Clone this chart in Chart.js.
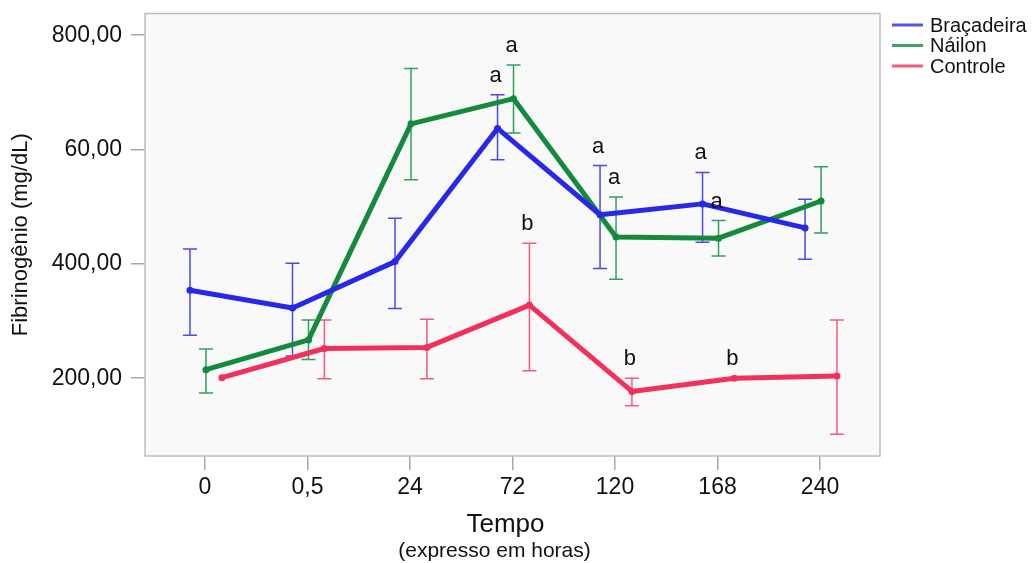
<!DOCTYPE html>
<html>
<head>
<meta charset="utf-8">
<script src="https://cdn.jsdelivr.net/npm/chart.js@4"></script>
<style>
  html, body { margin: 0; padding: 0; background: #fff; }
</style>
</head>
<body>
<canvas id="myChart" width="1035" height="563"></canvas>
<script>
// Time points (hours)
const categories = ['0', '0,5', '24', '72', '120', '168', '240'];

// Braçadeira
const bracadeira     = [354, 323, 404, 637, 486, 505, 463];
const bracadeiraLow  = [275, 239, 322, 582, 392, 438, 408];
const bracadeiraHigh = [426, 401, 480, 696, 572, 560, 513];
const bracadeiraSig  = ['', '', '', 'a', 'a', 'a', ''];

// Náilon
const nailon     = [215, 267, 645, 689, 447, 445, 510];
const nailonLow  = [174, 233, 547, 629, 373, 414, 454];
const nailonHigh = [251, 302, 742, 748, 517, 476, 570];
const nailonSig  = ['', '', '', 'a', 'a', 'a', ''];

// Controle
const controle     = [201, 252, 254, 328, 177, 200, 204];
const controleLow  = [null, 199, 199, 213, 152, null, 102];
const controleHigh = [null, 302, 303, 436, 200, null, 302];
const controleSig  = ['', '', '', 'b', 'b', 'b', ''];

// y axis ticks, labels as printed in the figure
const yTicks = [200, 400, 600, 800];
const yTickLabels = ['200,00', '400,00', '60,00', '800,00'];

const FONT = "'Liberation Sans', Arial, sans-serif";

function series(label, values, low, high, sig, color, barColor, shift) {
    return {
        label: label,
        data: values.map((v, i) => ({ x: i + shift, y: v })),
        low: low,
        high: high,
        sig: sig,
        barColor: barColor,
        borderColor: color,
        backgroundColor: color,
        borderWidth: 5,
        pointRadius: 3.5,
        pointBorderWidth: 0,
        borderJoinStyle: 'round',
        tension: 0
    };
}

// plot background + frame
const frame = {
    id: 'frame',
    beforeDraw(chart) {
        const { ctx, chartArea: a } = chart;
        ctx.save();
        ctx.fillStyle = '#f9f9f9';
        ctx.fillRect(a.left, a.top, a.right - a.left, a.bottom - a.top);
        ctx.restore();
    },
    afterDraw(chart) {
        const { ctx, chartArea: a } = chart;
        ctx.save();
        ctx.strokeStyle = '#bdbdbd';
        ctx.lineWidth = 1.5;
        ctx.strokeRect(a.left, a.top, a.right - a.left, a.bottom - a.top);
        ctx.restore();
    }
};

// error bars
const errorBars = {
    id: 'errorBars',
    beforeDatasetsDraw(chart) {
        const { ctx, scales: { x, y } } = chart;
        ctx.save();
        ctx.lineWidth = 1.5;
        chart.data.datasets.forEach((ds) => {
            ctx.strokeStyle = ds.barColor;
            ds.data.forEach((p, i) => {
                if (ds.low[i] == null) return;
                const px = x.getPixelForValue(p.x);
                const yt = y.getPixelForValue(ds.high[i]);
                const yb = y.getPixelForValue(ds.low[i]);
                ctx.beginPath();
                ctx.moveTo(px, yt); ctx.lineTo(px, yb);
                ctx.moveTo(px - 7, yt); ctx.lineTo(px + 7, yt);
                ctx.moveTo(px - 7, yb); ctx.lineTo(px + 7, yb);
                ctx.stroke();
            });
        });
        ctx.restore();
    }
};

// significance letters, legend and x subtitle
const extras = {
    id: 'extras',
    afterDraw(chart) {
        const { ctx, chartArea: a, scales: { x, y } } = chart;
        ctx.save();
        ctx.fillStyle = '#111';
        ctx.font = '22px ' + FONT;
        ctx.textAlign = 'center';
        ctx.textBaseline = 'middle';
        chart.data.datasets.forEach((ds) => {
            ds.data.forEach((p, i) => {
                if (!ds.sig[i]) return;
                const top = ds.high[i] != null ? ds.high[i] : p.y;
                ctx.fillText(ds.sig[i], x.getPixelForValue(p.x) - 2, y.getPixelForValue(top) - 19);
            });
        });

        // x title
        const cx = (a.left + a.right) / 2;
        ctx.font = '26px ' + FONT;
        ctx.fillText('Tempo', cx - 7, 525);
        ctx.font = '21px ' + FONT;
        ctx.fillText('(expresso em horas)', cx - 18, 551);

        // legend
        ctx.textAlign = 'left';
        ctx.font = '20px ' + FONT;
        chart.data.datasets.forEach((ds, i) => {
            const ly = 25 + i * 20.5;
            ctx.globalAlpha = 0.8;
            ctx.strokeStyle = ds.borderColor;
            ctx.lineWidth = 3;
            ctx.beginPath();
            ctx.moveTo(a.right + 12, ly);
            ctx.lineTo(a.right + 43, ly);
            ctx.stroke();
            ctx.globalAlpha = 1;
            ctx.fillStyle = '#111';
            ctx.fillText(ds.label, a.right + 50, ly + 1);
        });
        ctx.restore();
    }
};

const ctx = document.getElementById('myChart').getContext('2d');
const chart = new Chart(ctx, {
    type: 'line',
    data: {
        datasets: [
            series('Braçadeira', bracadeira, bracadeiraLow, bracadeiraHigh, bracadeiraSig, '#2828e8', '#4a4ae2', -0.146),
            series('Náilon', nailon, nailonLow, nailonHigh, nailonSig, '#138a3c', '#30a060', 0.01),
            series('Controle', controle, controleLow, controleHigh, controleSig, '#f2305c', '#f45a7c', 0.165)
        ]
    },
    options: {
        responsive: false,
        animation: false,
        devicePixelRatio: 1,
        layout: { padding: { top: 13.5, left: 0, right: 155, bottom: 0 } },
        plugins: {
            legend: { display: false },
            tooltip: { enabled: false }
        },
        scales: {
            x: {
                type: 'linear',
                min: -0.585,
                max: 6.585,
                afterBuildTicks: (s) => { s.ticks = categories.map((c, i) => ({ value: i })); },
                afterFit: (s) => { s.height = 107; s.paddingLeft = 0; s.paddingRight = 0; },
                ticks: {
                    autoSkip: false,
                    maxRotation: 0,
                    padding: 4,
                    color: '#111',
                    font: { family: FONT, size: 23 },
                    callback: (v) => categories[Math.round(v)]
                },
                grid: { drawOnChartArea: false, tickLength: 14, color: '#a8a8a8', lineWidth: 1.5 },
                border: { display: false }
            },
            y: {
                min: 64,
                max: 838,
                afterBuildTicks: (s) => { s.ticks = yTicks.map((v) => ({ value: v })); },
                afterFit: (s) => { s.width = 145; s.paddingTop = 0; s.paddingBottom = 0; },
                ticks: {
                    padding: 9,
                    color: '#111',
                    font: { family: FONT, size: 23 },
                    callback: (v, i) => yTickLabels[i]
                },
                grid: { drawOnChartArea: false, tickLength: 14, color: '#a8a8a8', lineWidth: 1.5 },
                border: { display: false },
                title: {
                    display: true,
                    text: 'Fibrinogênio (mg/dL)',
                    color: '#111',
                    font: { family: FONT, size: 22 },
                    padding: { top: 8, bottom: 0 }
                }
            }
        }
    },
    plugins: [frame, errorBars, extras]
});
</script>
</body>
</html>
